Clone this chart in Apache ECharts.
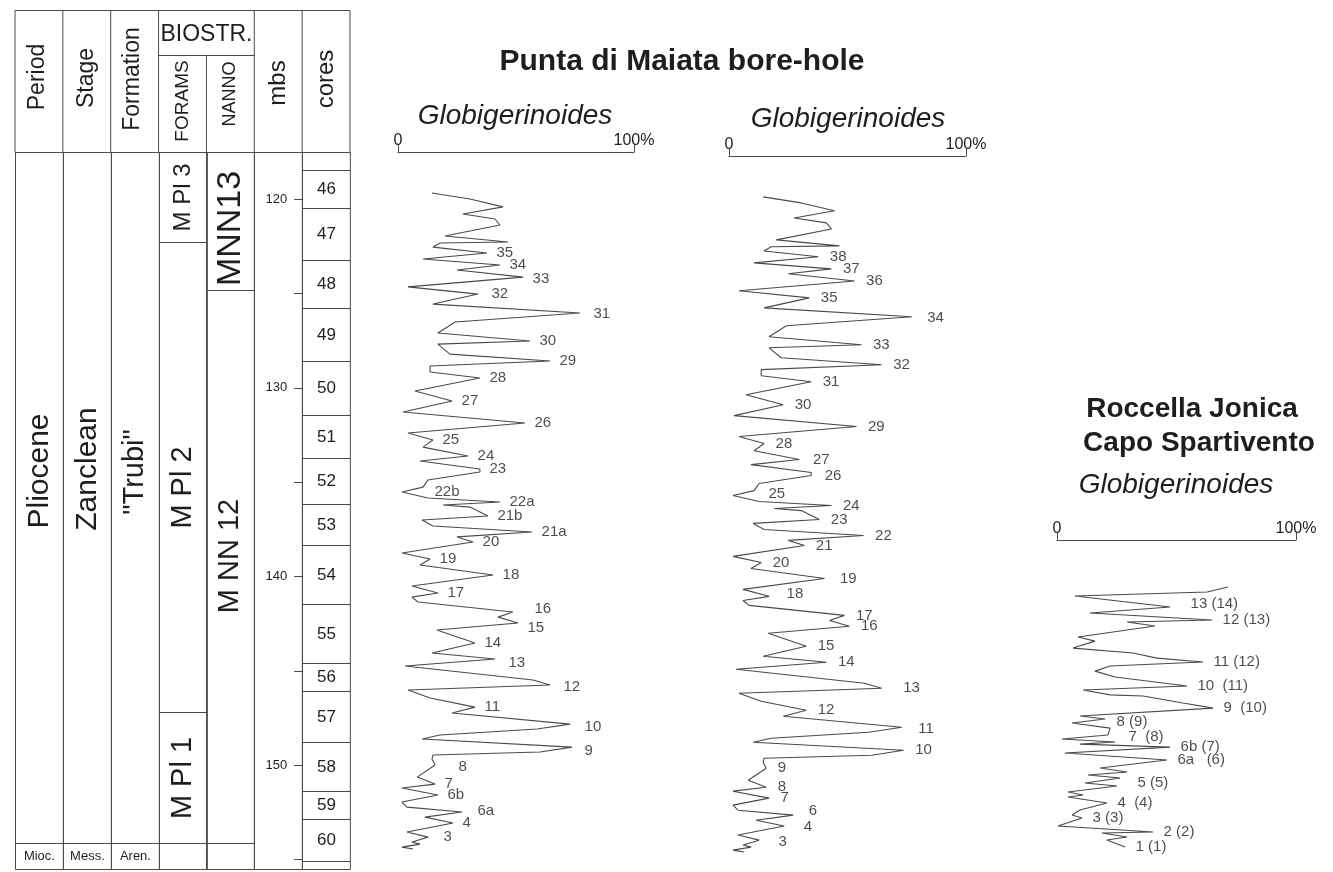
<!DOCTYPE html>
<html>
<head>
<meta charset="utf-8">
<title>Globigerinoides – Punta di Maiata and Roccella Jonica</title>
<script src="https://cdn.jsdelivr.net/npm/echarts@6/dist/echarts.min.js"></script>
<style>
  html, body { margin: 0; padding: 0; background: #ffffff; }
  #chart { width: 1333px; height: 872px; }
</style>
</head>
<body>
<div id="chart"></div>
<script>
// ---------- Punta di Maiata bore-hole: Globigerinoides (%) against depth (mbs) ----------
const maiataPct = [
  14.4, 30.5, 44.5, 27.5, 41.1, 43.2, 19.9, 46.6, 17.8, 14.8,
  37.7, 10.6, 43.2, 25.0, 53.0, 4.2, 33.9, 14.8, 77.1, 24.2,
  16.9, 55.9, 16.9, 22.0, 64.4, 13.6, 13.6, 34.7, 7.2, 22.9,
  2.1, 53.8, 4.2, 14.8, 10.6, 29.7, 9.3, 34.7, 34.7, 12.7,
  10.6, 1.7, 12.7, 43.2, 19.1, 30.5, 38.1, 10.2, 14.8, 56.8,
  25.0, 31.8, 1.7, 13.6, 9.3, 40.3, 5.9, 16.9, 5.9, 8.5,
  48.7, 42.4, 50.8, 16.5, 32.6, 14.4, 41.1, 3.0, 57.2, 64.4,
  4.2, 13.6, 32.6, 22.9, 72.9, 58.9, 17.8, 10.2, 73.7, 60.2,
  14.8, 14.4, 15.7, 8.1, 15.7, 1.7, 16.9, 1.7, 3.8, 27.1,
  11.4, 23.3, 3.8, 12.7, 5.9, 9.3, 1.7, 6.4
];
const maiataDepth = [
  119.67, 119.99, 120.41, 120.79, 121.05, 121.37, 121.95, 122.27, 122.32, 122.54,
  122.85, 123.17, 123.49, 123.75, 124.13, 124.65, 125.03, 125.56, 126.03, 126.51,
  127.09, 127.52, 127.68, 128.21, 128.58, 128.84, 129.16, 129.48, 130.17, 130.70,
  131.28, 131.86, 132.39, 132.76, 133.14, 133.61, 133.88, 134.30, 134.46, 134.88,
  135.26, 135.52, 135.84, 136.05, 136.21, 136.32, 136.79, 137.00, 137.32, 137.64,
  137.90, 138.17, 138.75, 139.07, 139.39, 139.92, 140.50, 140.87, 141.09, 141.35,
  141.88, 142.15, 142.46, 142.83, 143.52, 144.05, 144.37, 144.74, 145.48, 145.75,
  146.01, 146.44, 146.92, 147.23, 147.82, 148.08, 148.40, 148.61, 149.04, 149.30,
  149.46, 149.67, 149.99, 150.63, 151.00, 151.21, 151.58, 151.95, 152.22, 152.48,
  152.75, 153.06, 153.54, 153.81, 154.07, 154.18, 154.34, 154.44
];
// cycle numbering of the same record: [sample index, cycle]
const maiataCyclesA = [
  [10, '35'], [12, '34'], [14, '33'], [16, '32'], [18, '31'], [21, '30'], [24, '29'],
  [27, '28'], [29, '27'], [31, '26'], [33, '25'], [35, '24'], [37, '23'], [41, '22b'],
  [43, '22a'], [46, '21b'], [49, '21a'], [51, '20'], [53, '19'], [55, '18'], [57, '17'],
  [60, '16'], [62, '15'], [64, '14'], [66, '13'], [69, '12'], [72, '11'], [74, '10'],
  [78, '9'], [82, '8'], [84, '7'], [86, '6b'], [89, '6a'], [91, '4'], [93, '3']
];
const maiataCyclesB = [
  [10, '38'], [12, '37'], [14, '36'], [16, '35'], [18, '34'], [21, '33'], [24, '32'],
  [27, '31'], [29, '30'], [31, '29'], [33, '28'], [35, '27'], [37, '26'], [41, '25'],
  [43, '24'], [46, '23'], [49, '22'], [51, '21'], [53, '20'], [55, '19'], [57, '18'],
  [60, '17'], [62, '16'], [64, '15'], [66, '14'], [69, '13'], [72, '12'], [74, '11'],
  [78, '10'], [82, '9'], [84, '8'], [86, '7'], [89, '6'], [91, '4'], [93, '3']
];

// ---------- Roccella Jonica – Capo Spartivento ----------
const roccellaPct = [
  71.5, 62.8, 7.5, 47.3, 13.8, 64.9, 29.3, 41.0, 8.8, 15.9,
  6.7, 31.8, 41.8, 61.1, 22.2, 15.9, 24.3, 54.4, 10.9, 22.2,
  36.0, 52.7, 65.3, 9.6, 20.1, 6.3, 22.2, 21.3, 2.1, 24.3,
  9.6, 47.3, 3.3, 46.0, 18.0, 29.3, 13.0, 26.4, 11.7, 25.1,
  4.6, 10.9, 4.6, 20.9, 9.6, 6.3, 10.5, 0.4, 40.2, 18.8,
  29.3, 20.9, 28.5
];
const roccellaDepth = [
  140.55, 140.82, 141.03, 141.61, 141.93, 142.30, 142.41, 142.62, 143.20, 143.42,
  143.79, 144.05, 144.32, 144.53, 144.74, 145.01, 145.32, 145.80, 146.01, 146.27,
  146.33, 146.70, 146.97, 147.39, 147.55, 147.76, 148.03, 148.40, 148.61, 148.77,
  148.88, 149.04, 149.35, 149.72, 150.15, 150.36, 150.52, 150.68, 150.94, 151.10,
  151.42, 151.58, 151.68, 152.00, 152.37, 152.64, 152.80, 153.22, 153.54, 153.59,
  153.80, 153.96, 154.33
];
const roccellaCycles = [
  [3, '13 (14)'], [5, '12 (13)'], [13, '11 (12)'], [17, '10  (11)'], [22, '9  (10)'],
  [24, '8 (9)'], [29, '7  (8)'], [31, '6b (7)'], [33, '6a   (6)'], [39, '5 (5)'],
  [43, '4  (4)'], [46, '3 (3)'], [48, '2 (2)'], [52, '1 (1)']
];
// correlation ties drawn in the Roccella frame: [%, depth]
const tieUpper = [[-62.3, 147.39], [-46.0, 147.39], [-10.5, 144.85], [-2.1, 144.85]];
const tieLower = [[-64.4, 151.53], [-48.1, 151.53], [-10.5, 148.61], [-3.8, 148.61]];

// ---------- stratigraphic column ----------
const columns = ['Period', 'Stage', 'Formation', 'FORAMS', 'NANNO', 'mbs', 'cores'];
const periodNames = ['Pliocene', 'Mioc.'];
const periodBounds = [117.5, 154.12, 155.5];
const stageNames = ['Zanclean', 'Mess.'];
const stageBounds = [117.5, 154.12, 155.5];
const formationNames = ['"Trubi"', 'Aren.'];
const formationBounds = [117.5, 154.12, 155.5];
const foramNames = ['M Pl 3', 'M Pl 2', 'M Pl 1', ''];
const foramBounds = [117.5, 122.27, 147.18, 154.12, 155.5];
const nannoNames = ['MNN13', 'M NN 12', ''];
const nannoBounds = [117.5, 124.81, 154.12, 155.5];
const mbsNames = [''];
const mbsBounds = [117.5, 155.5];
const coreNames = ['', '46', '47', '48', '49', '50', '51', '52', '53', '54', '55', '56', '57', '58', '59', '60', ''];
const coreBounds = [117.5, 118.45, 120.47, 123.22, 125.77, 128.58, 131.44, 133.72, 136.16,
  138.33, 141.46, 144.58, 146.07, 148.77, 151.37, 152.85, 155.08, 155.5];
const depthTicks = [120, 125, 130, 135, 140, 145, 150, 155];
const depthLabels = [120, 130, 140, 150];

// ---------- styling ----------
const LINE = '#4a4a4a';
const INK = '#1e1e1e';
const FONT = '"Liberation Sans", Arial, Helvetica, sans-serif';
const DEPTH_MIN = 117.5, DEPTH_MAX = 155.5;
const TABLE = { left: 15, top: 152, width: 335, height: 717, headTop: 10, biostrBase: 55 };
const colW = TABLE.width / columns.length;
const edge = i => TABLE.left + i * colW;

const cellFontSize = { 'Pliocene': 30, 'Zanclean': 30, '"Trubi"': 29, 'M Pl 3': 24, 'M Pl 2': 29, 'M Pl 1': 29, 'MNN13': 34, 'M NN 12': 29 };
const cellShift = { 'Pliocene': -27, 'Zanclean': -29, '"Trubi"': -26, 'M Pl 2': 10, 'M NN 12': -11, 'MNN13': 7 };

// extra label offsets in px [dx, dy]
const nudgeA = { '22b': [23, 0], '16': [12, -3], '8': [14, 2], '6a': [6, -1], '3': [6, 0], '12': [4, 2], '13': [4, 4], '10': [5, 3], '9': [3, 4], '15': [0, 5], '31': [4, 1], '32': [4, 0], '33': [0, 2] };
const nudgeB = { '25': [24, -2], '13': [10, 0], '11': [5, 2], '18': [6, -2], '4': [8, 1], '3': [8, 2], '34': [4, 1], '19': [4, 0], '6': [4, -4], '27': [2, 0], '26': [2, 3] };
const nudgeC = { '13 (14)': [10, -3], '5 (5)': [10, -3], '7  (8)': [3, -5], '8 (9)': [1, 3] };

// cells of the column, one row per interval
const cellData = [];
[[periodNames, periodBounds], [stageNames, stageBounds], [formationNames, formationBounds],
 [foramNames, foramBounds], [nannoNames, nannoBounds], [mbsNames, mbsBounds], [coreNames, coreBounds]]
  .forEach(([names, bounds], c) => {
    names.forEach((n, i) => cellData.push([c, bounds[i], bounds[i + 1], n]));
  });

function renderCell(params, api) {
  const col = api.value(0);
  const top = api.value(1);
  const base = api.value(2);
  const name = cellData[params.dataIndex][3];
  const p0 = api.coord([col, top]);
  const p1 = api.coord([col, base]);
  const w = api.size([1, 0])[0];
  const x = Math.round(p0[0] - w / 2) + 0.5;
  const y = Math.round(p0[1]) + 0.5;
  const h = Math.round(p1[1]) - Math.round(p0[1]);
  const children = [{
    type: 'rect',
    shape: { x: x, y: y, width: w, height: h },
    style: { fill: 'none', stroke: LINE, lineWidth: 1 }
  }];
  if (name) {
    const horizontal = col === 6 || h < 40;
    const size = col === 6 ? 17 : (horizontal ? 13 : (cellFontSize[name] || 29));
    children.push({
      type: 'text',
      x: x + w / 2,
      y: y + h / 2 + (cellShift[name] || 0),
      rotation: horizontal ? 0 : Math.PI / 2,
      style: {
        text: name, fill: INK,
        font: size + 'px ' + FONT,
        align: 'center', verticalAlign: 'middle',
        textAlign: 'center', textVerticalAlign: 'middle'
      }
    });
  }
  return { type: 'group', children: children };
}

function pctAxis(gridIndex) {
  return {
    type: 'value', gridIndex: gridIndex, position: 'top', min: 0, max: 100, interval: 100,
    axisLine: { show: true, lineStyle: { color: LINE, width: 1 } },
    axisTick: { show: true, length: 7, lineStyle: { color: LINE, width: 1 } },
    axisLabel: {
      show: true, margin: 3, fontSize: 16, fontFamily: FONT, color: INK,
      formatter: v => (v === 100 ? '100%' : String(v))
    },
    splitLine: { show: false }
  };
}
function depthAxis(gridIndex, min, max) {
  return { type: 'value', gridIndex: gridIndex, inverse: true, min: min, max: max, show: false };
}
function curve(pct, depth, axisIdx) {
  return {
    type: 'line', xAxisIndex: axisIdx, yAxisIndex: axisIdx, silent: true,
    showSymbol: false, symbol: 'none',
    lineStyle: { color: LINE, width: 1.1 },
    data: pct.map((p, i) => [p, depth[i]])
  };
}
function cycleLabels(cycles, pct, depth, axisIdx, gap, nudge) {
  return {
    type: 'scatter', xAxisIndex: axisIdx, yAxisIndex: axisIdx, silent: true,
    symbolSize: 1, itemStyle: { color: 'rgba(0,0,0,0)' },
    label: {
      show: true, position: 'right', distance: gap, formatter: '{b}',
      fontSize: 15, fontFamily: FONT, color: INK
    },
    data: cycles.map(([i, name]) => ({
      name: name,
      value: [pct[i], depth[i]],
      label: { offset: nudge[name] || [0, 0] }
    }))
  };
}
function tie(points) {
  return {
    type: 'line', xAxisIndex: 4, yAxisIndex: 4, silent: true, clip: false,
    showSymbol: false, symbol: 'none',
    lineStyle: { color: LINE, width: 1.1 },
    data: points
  };
}

function txt(text, x, y, size, opts) {
  opts = opts || {};
  return {
    type: 'text', x: x, y: y, rotation: opts.rotate ? Math.PI / 2 : 0, silent: true,
    style: {
      text: text, fill: INK,
      font: (opts.italic ? 'italic ' : '') + (opts.bold ? 'bold ' : '') + size + 'px ' + FONT,
      align: 'center', verticalAlign: 'middle',
      textAlign: 'center', textVerticalAlign: 'middle'
    }
  };
}
function seg(x1, y1, x2, y2) {
  return { type: 'line', silent: true, shape: { x1: x1, y1: y1, x2: x2, y2: y2 }, style: { stroke: LINE, lineWidth: 1 } };
}

// header of the stratigraphic column
const hT = TABLE.headTop + 0.5, hB = TABLE.top + 0.5, hM = TABLE.biostrBase + 0.5;
const headerGraphics = [
  seg(edge(0), hT, edge(7), hT),
  seg(edge(0), hB, edge(7), hB),
  seg(edge(3), hM, edge(5), hM),
  seg(edge(0), hT, edge(0), hB),
  seg(edge(1), hT, edge(1), hB),
  seg(edge(2), hT, edge(2), hB),
  seg(edge(3), hT, edge(3), hB),
  seg(edge(4), hM, edge(4), hB),
  seg(edge(5), hT, edge(5), hB),
  seg(edge(6), hT, edge(6), hB),
  seg(edge(7), hT, edge(7), hB),
  txt('Period', edge(0) + colW / 2 - 1, 77, 23, { rotate: true }),
  txt('Stage', edge(1) + colW / 2, 78, 23, { rotate: true }),
  txt('Formation', edge(2) + colW / 2 - 2, 79, 23, { rotate: true }),
  txt('BIOSTR.', edge(4), 35, 23),
  txt('FORAMS', edge(3) + colW / 2, 101, 19, { rotate: true }),
  txt('NANNO', edge(4) + colW / 2, 94, 18, { rotate: true }),
  txt('mbs', edge(5) + colW / 2, 83, 24, { rotate: true }),
  txt('cores', edge(6) + colW / 2, 79, 24, { rotate: true })
];
const titleGraphics = [
  txt('Punta di Maiata bore-hole', 682, 62, 30, { bold: true }),
  txt('Globigerinoides', 515, 116, 28, { italic: true }),
  txt('Globigerinoides', 848, 119, 28, { italic: true }),
  txt('Roccella Jonica', 1192, 409, 28, { bold: true }),
  txt('Capo Spartivento', 1199, 443, 28, { bold: true }),
  txt('Globigerinoides', 1176, 485, 28, { italic: true })
];

const chart = echarts.init(document.getElementById('chart'));
chart.setOption({
  backgroundColor: '#ffffff',
  animation: false,
  textStyle: { fontFamily: FONT },
  grid: [
    { left: TABLE.left, top: TABLE.top, width: TABLE.width, height: TABLE.height },
    { left: edge(6), top: TABLE.top, width: colW, height: TABLE.height },
    { left: 398, top: 152, width: 236, height: 717 },
    { left: 729, top: 156, width: 237, height: 717 },
    { left: 1057, top: 540, width: 239, height: 329 }
  ],
  xAxis: [
    { type: 'category', gridIndex: 0, data: columns, show: false },
    { type: 'value', gridIndex: 1, show: false, min: 0, max: 1 },
    pctAxis(2),
    pctAxis(3),
    pctAxis(4)
  ],
  yAxis: [
    depthAxis(0, DEPTH_MIN, DEPTH_MAX),
    {
      // depth scale (mbs) set against the left edge of the cores column
      type: 'value', gridIndex: 1, position: 'left', inverse: true, min: DEPTH_MIN, max: DEPTH_MAX,
      axisLine: { show: false },
      axisTick: { show: true, inside: false, length: 8, customValues: depthTicks, lineStyle: { color: LINE } },
      axisLabel: { show: true, inside: false, margin: 15, customValues: depthLabels, fontSize: 13, fontFamily: FONT, color: INK },
      splitLine: { show: false }
    },
    depthAxis(2, DEPTH_MIN, DEPTH_MAX),
    depthAxis(3, DEPTH_MIN, DEPTH_MAX),
    depthAxis(4, 138.06, DEPTH_MAX)
  ],
  series: [
    {
      type: 'custom', xAxisIndex: 0, yAxisIndex: 0, silent: true, clip: false,
      renderItem: renderCell,
      data: cellData.map(d => [d[0], d[1], d[2]])
    },
    curve(maiataPct, maiataDepth, 2),
    cycleLabels(maiataCyclesA, maiataPct, maiataDepth, 2, 9, nudgeA),
    curve(maiataPct, maiataDepth, 3),
    cycleLabels(maiataCyclesB, maiataPct, maiataDepth, 3, 11, nudgeB),
    curve(roccellaPct, roccellaDepth, 4),
    cycleLabels(roccellaCycles, roccellaPct, roccellaDepth, 4, 10, nudgeC),
    tie(tieUpper),
    tie(tieLower)
  ],
  graphic: { elements: headerGraphics.concat(titleGraphics) }
});
</script>
</body>
</html>
